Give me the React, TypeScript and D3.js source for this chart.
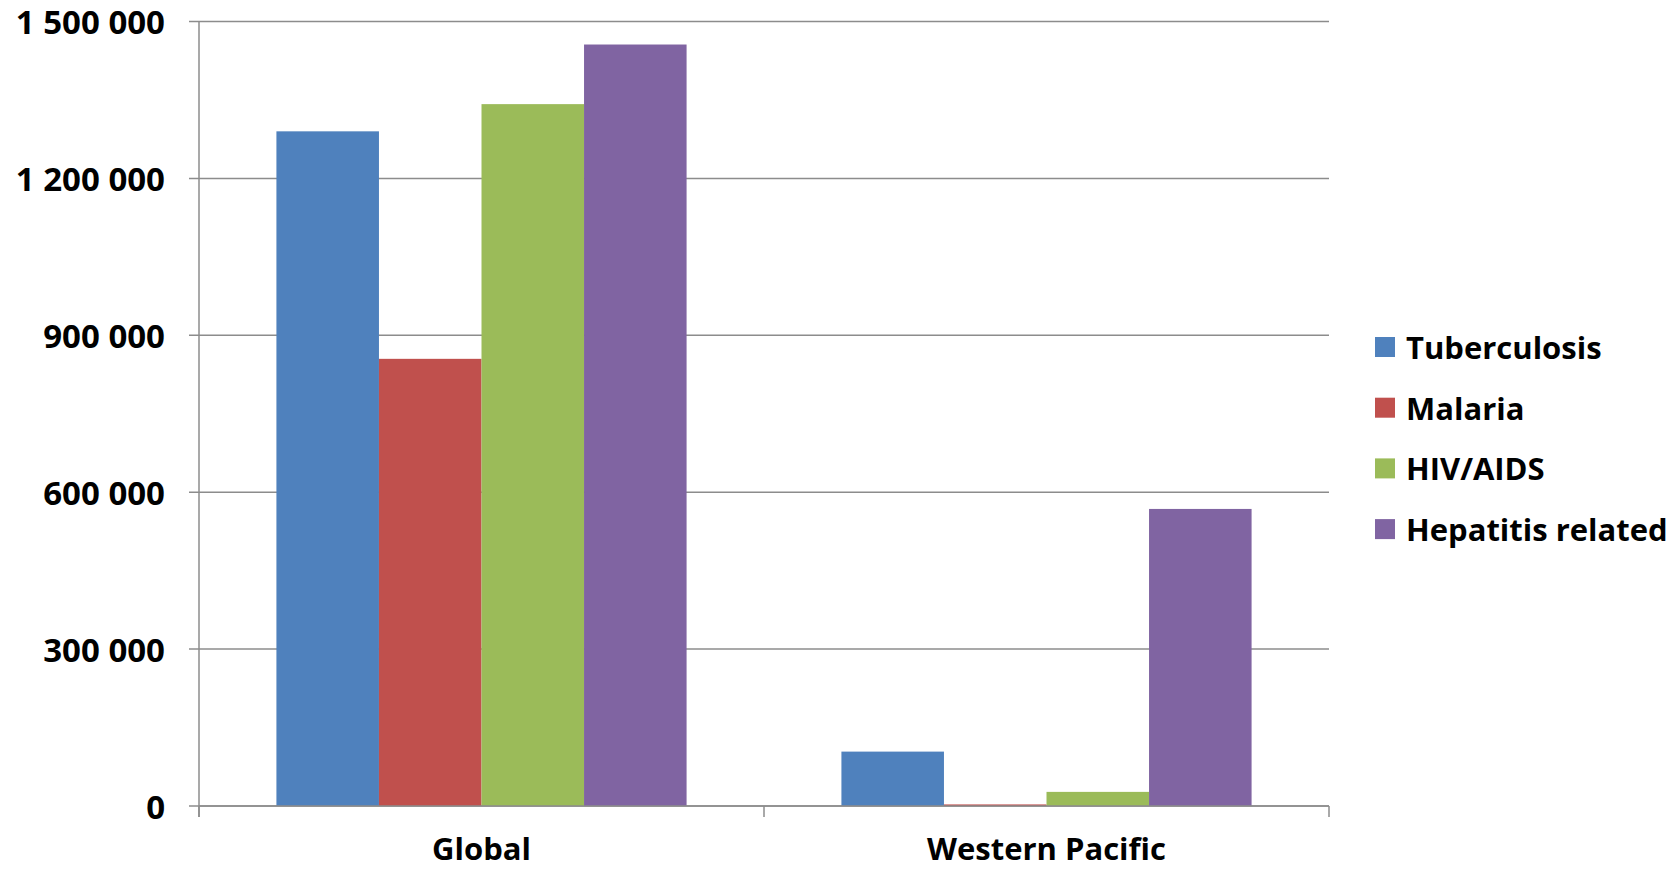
import React from "react";
import * as d3 from "d3";

const width = 1670;
const height = 870;

const regions = ["Global", "Western Pacific"];
const diseases = ["Tuberculosis", "Malaria", "HIV/AIDS", "Hepatitis related"];
const colors = ["#4F81BD", "#C0504D", "#9BBB59", "#8064A2"];

// deaths per disease, one array per region
const globalValues = [1290000, 855000, 1342000, 1456000];
const westernPacificValues = [104000, 3000, 27000, 568000];

const yTicks = [0, 300000, 600000, 900000, 1200000, 1500000];

const margin = { top: 21.5, right: 341, bottom: 64, left: 199 };

const fontFamily = "'Open Sans', Lato, sans-serif";
const fontSize = 31;

const fmt = d3.formatLocale({ decimal: ",", thousands: " ", grouping: [3], currency: ["", ""] }).format(",d");

export default function App() {
  const data = [globalValues, westernPacificValues];

  const x0 = d3
    .scaleBand()
    .domain(regions)
    .range([margin.left, width - margin.right])
    .paddingInner(0)
    .paddingOuter(0);

  // bars take up the middle of each band
  const x1 = d3
    .scaleBand()
    .domain(diseases)
    .range([0, x0.bandwidth()])
    .paddingOuter(0.755)
    .paddingInner(0);

  const y = d3
    .scaleLinear()
    .domain([0, 1500000])
    .range([height - margin.bottom, margin.top]);

  const x0Edges = [...regions.map(r => x0(r)), x0.range()[1]];

  return (
    <svg width={width} height={height} style={{ display: "block", position: "absolute", left: 0, top: 0 }}>
      <rect width={width} height={height} fill="#ffffff" />

      {/* gridlines */}
      {yTicks.map(t => (
        <line
          key={"g" + t}
          x1={margin.left - 10}
          x2={width - margin.right}
          y1={y(t)}
          y2={y(t)}
          stroke="#8c8c8c"
          strokeWidth={1.5}
        />
      ))}

      {/* bars */}
      {regions.map((r, i) => (
        <g key={r} transform={`translate(${x0(r)},0)`}>
          {diseases.map((d, j) => (
            <rect
              key={d}
              x={x1(d)}
              y={y(data[i][j])}
              width={x1.bandwidth()}
              height={y(0) - y(data[i][j])}
              fill={colors[j]}
            />
          ))}
        </g>
      ))}

      {/* axes */}
      <line x1={margin.left} x2={margin.left} y1={margin.top} y2={y(0) + 11} stroke="#8c8c8c" strokeWidth={1.5} />
      <line x1={margin.left} x2={width - margin.right} y1={y(0)} y2={y(0)} stroke="#8c8c8c" strokeWidth={1.5} />
      {x0Edges.map((e, i) => (
        <line key={"t" + i} x1={e} x2={e} y1={y(0)} y2={y(0) + 11} stroke="#8c8c8c" strokeWidth={1.5} />
      ))}

      {/* y labels */}
      {yTicks.map(t => (
        <text
          key={"l" + t}
          x={165}
          y={y(t)}
          textAnchor="end"
          dominantBaseline="central"
          fontFamily={fontFamily}
          fontWeight="bold"
          fontSize={33}
          fill="#000"
        >
          {fmt(t)}
        </text>
      ))}

      {/* x labels */}
      {regions.map(r => (
        <text
          key={"x" + r}
          x={x0(r) + x0.bandwidth() / 2}
          y={848}
          textAnchor="middle"
          dominantBaseline="central"
          fontFamily={fontFamily}
          fontWeight="bold"
          fontSize={fontSize}
          fill="#000"
        >
          {r}
        </text>
      ))}

      {/* legend */}
      {diseases.map((d, j) => (
        <g key={"lg" + d} transform={`translate(1375,${347 + j * 60.7})`}>
          <rect x={0} y={-10} width={20} height={20} fill={colors[j]} />
          <text
            x={31}
            y={0}
            dominantBaseline="central"
            fontFamily={fontFamily}
            fontWeight="bold"
            fontSize={fontSize}
            fill="#000"
          >
            {d}
          </text>
        </g>
      ))}
    </svg>
  );
}
